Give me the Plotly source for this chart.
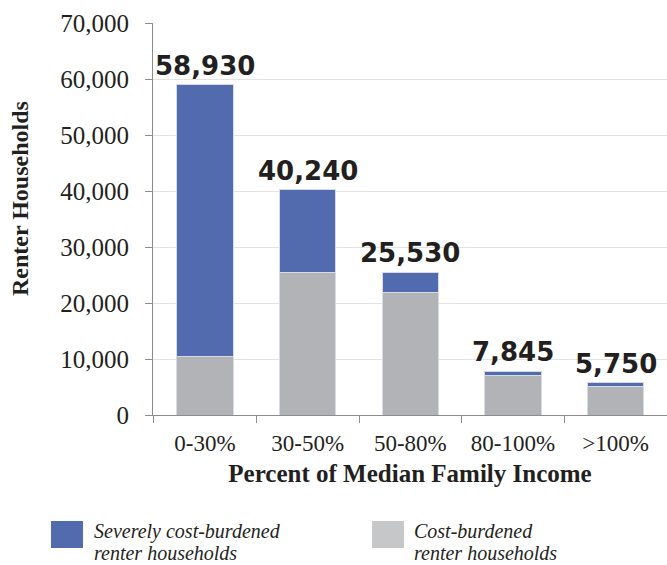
import plotly.graph_objects as go

categories = ["0-30%", "30-50%", "50-80%", "80-100%", ">100%"]
totals = [58930, 40240, 25530, 7845, 5750]
cost_burdened = [10500, 25500, 21800, 7050, 5100]
severely = [t - c for t, c in zip(totals, cost_burdened)]
total_labels = ["58,930", "40,240", "25,530", "7,845", "5,750"]
legend_lines_severe = ["Severely cost-burdened", "renter households"]
legend_lines_cost = ["Cost-burdened", "renter households"]

BLUE = "#516BAE"
GRAY = "#B2B3B7"
SERIF = "Liberation Serif"
TXT = "#231F20"

fig = go.Figure()
fig.add_bar(x=categories, y=cost_burdened, name="Cost-burdened renter households",
            marker=dict(color=GRAY, line=dict(color="#D5DAE6", width=1)), width=0.55)
fig.add_bar(x=categories, y=severely, name="Severely cost-burdened renter households",
            marker=dict(color=BLUE, line=dict(color="#D5DAE6", width=1)), width=0.55)

for c, t, lab in zip(categories, totals, total_labels):
    fig.add_annotation(x=c, y=t, text=lab, showarrow=False, yanchor="bottom", yshift=2,
                       font=dict(family="DejaVu Sans", size=26, color=TXT, weight="bold"))

W, L, T, H = 667, 153, 23, 392
def px(x):
    return (x - L) / (W - L)
def py(y):
    return (T + H - y) / H

# y-axis title
fig.add_annotation(xref="paper", yref="paper", x=px(20), y=py(199), textangle=-90,
                   text="<b>Renter Households</b>", showarrow=False,
                   xanchor="center", yanchor="middle",
                   font=dict(family=SERIF, size=24, color=TXT))

# custom legend
fig.add_shape(type="rect", xref="paper", yref="paper", x0=px(51), x1=px(83), y0=py(548), y1=py(521),
              fillcolor=BLUE, line=dict(width=0))
fig.add_shape(type="rect", xref="paper", yref="paper", x0=px(372), x1=px(404), y0=py(548), y1=py(521),
              fillcolor="#C6C7C9", line=dict(width=0))
for xs, lines in ((93, legend_lines_severe), (413, legend_lines_cost)):
    for yc, line in zip((531, 553), lines):
        fig.add_annotation(xref="paper", yref="paper", x=px(xs), y=py(yc), xanchor="left", yanchor="middle",
                           text="<i>" + line + "</i>", showarrow=False, align="left",
                           borderpad=0,
                           font=dict(family=SERIF, size=20, color=TXT))

fig.update_layout(
    barmode="stack",
    width=667, height=565,
    margin=dict(l=L, r=0, t=T, b=565 - T - H),
    paper_bgcolor="white", plot_bgcolor="white",
    showlegend=False,
    font=dict(family=SERIF, color=TXT),
    xaxis=dict(
        showline=True, linecolor="#8C8C8C", linewidth=1,
        ticks="outside", tickson="boundaries", ticklen=7, tickcolor="#8C8C8C",
        ticklabelstandoff=7,
        tickfont=dict(family=SERIF, size=23, color=TXT),
        title=dict(text="<b>Percent of Median Family Income</b>",
                   font=dict(family=SERIF, size=25, color=TXT), standoff=9),
    ),
    yaxis=dict(
        range=[0, 70000], dtick=10000, tickformat=",d",
        showline=True, linecolor="#8C8C8C", linewidth=1,
        ticks="outside", ticklen=7, tickcolor="#8C8C8C",
        ticklabelstandoff=11,
        showgrid=True, gridcolor="#E3E3E3", gridwidth=1,
        tickfont=dict(family=SERIF, size=25, color=TXT),
        zeroline=False,
    ),
)

fig.write_html("out.html", config={"displayModeBar": False},
               post_script="document.body.style.margin='0px';")
